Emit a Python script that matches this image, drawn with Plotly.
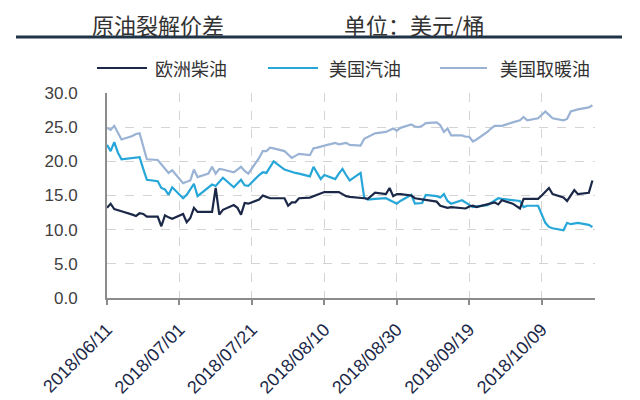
import pandas as pd
import plotly.graph_objects as go

dates = pd.bdate_range("2018-06-11", "2018-10-23")

eu_diesel = [
    13.2, 13.8, 13.0, 12.9, 12.7,
    12.2, 12.0, 12.4, 12.3, 11.9,
    11.9, 10.5, 12.1, 11.8, 11.6,
    12.3, 11.1, 11.7, 13.2, 12.6,
    12.6, 12.6, 16.1, 12.2, 12.9,
    13.6, 13.2, 12.2, 13.9, 13.8,
    14.4, 15.0, 14.8, 14.6, 14.6,
    14.6, 13.5, 14.0, 14.0, 14.6,
    14.7, 14.9, 15.1, 15.3, 15.5,
    15.5, 15.5, 15.2, 14.9, 14.8,
    14.7, 14.6, 14.5, 14.9, 15.4,
    15.2, 16.1, 14.9, 15.2, 15.2,
    15.0, 14.6, 14.5, 14.4, 14.3,
    14.1, 13.5, 13.3, 13.2, 13.3,
    13.1, 13.1, 13.4, 13.5, 13.3,
    13.7, 13.9, 14.0, 13.7, 14.3,
    13.8, 13.5, 13.1, 14.5, 14.5,
    14.5, 15.0, 15.6, 16.1, 15.2,
    14.7, 14.2, 15.0, 15.8, 15.2,
    15.4, 17.2,
]

us_gasoline = [
    22.4, 21.5, 22.8, 21.3, 20.3,
    20.5, 20.6, 20.6, 18.9, 17.3,
    17.1, 16.1, 15.9, 15.1, 16.2,
    14.6, 15.1, 15.9, 16.7, 14.9,
    16.2, 16.6, 16.4, 17.0, 17.6,
    16.2, 16.8, 17.3, 16.5, 16.4,
    18.0, 18.4, 18.3, 19.2, 20.0,
    18.8, 18.6, 18.5, 18.3, 18.2,
    17.8, 19.2, 18.3, 17.4, 18.0,
    17.4, 18.2, 18.9, 18.0, 17.2,
    18.3, 14.7, 14.4, 14.5, 14.5,
    14.6, 14.3, 14.1, 13.8, 14.2,
    15.1, 13.8, 13.8, 13.9, 15.1,
    14.9, 14.7, 15.2, 14.2, 13.8,
    14.3, 14.0, 13.6, 13.3, 13.4,
    13.6, 13.9, 14.3, 14.6, 14.5,
    14.3, 14.3, 14.2, 13.3, 13.5,
    13.5, 12.2, 11.0, 10.4, 10.2,
    9.9, 11.0, 10.8, 10.9, 11.0,
    10.7, 10.4,
]

us_heating = [
    24.9, 24.6, 25.2, 24.2, 23.2,
    23.7, 24.0, 24.1, 22.2, 20.3,
    20.2, 19.6, 19.0, 18.3, 18.7,
    16.8, 17.0, 17.2, 18.8, 17.7,
    18.2, 19.2, 18.2, 18.9, 18.8,
    18.4, 18.8, 19.2, 18.6, 18.2,
    20.5, 21.5, 21.5, 22.0, 21.9,
    21.5, 21.0, 20.5, 20.8, 21.1,
    20.9, 21.9, 22.0, 22.1, 22.3,
    22.7, 22.5, 22.6, 22.7, 22.4,
    22.3, 23.3, 23.6, 23.9, 24.1,
    24.3, 24.5, 24.8, 24.5, 24.9,
    25.4, 25.1, 25.0, 25.2, 25.6,
    25.7, 25.3, 24.3, 24.8, 23.8,
    23.8, 23.6, 23.6, 22.9, 23.2,
    24.3, 24.8, 25.2, 25.2, 25.2,
    25.7, 25.9, 26.0, 26.5, 26.0,
    26.3, 26.8, 27.3, 26.8, 26.3,
    26.0, 26.2, 27.3, 27.5, 27.6,
    27.9, 28.2,
]

series_names = ["欧洲柴油", "美国汽油", "美国取暖油"]
series_colors = ["#1B2848", "#27A6D8", "#9AB3D5"]
title_left = "原油裂解价差"
title_right = "单位：美元/桶"

# layout geometry (pixels)
L, R, T, B = 107, 45, 93, 102
W, H = 640, 400
PW, PH = W - L - R, H - T - B

def px(x):
    return (x - L) / PW

def py(y):
    return (H - B - y) / PH

CJK = "Noto Sans CJK SC"

fig = go.Figure()
for name, vals, col in zip(series_names[::-1],
                           [us_heating, us_gasoline, eu_diesel],
                           series_colors[::-1]):
    fig.add_trace(go.Scatter(x=dates, y=vals, name=name, mode="lines",
                             line=dict(color=col, width=2.2), showlegend=False))

annotations = []
shapes = []
# header
annotations.append(dict(text=title_left, x=px(90), y=py(24), xref="paper", yref="paper",
                        xanchor="left", yanchor="middle", showarrow=False,
                        font=dict(family=CJK, size=22, color="#333333")))
annotations.append(dict(text=title_right, x=px(342), y=py(24), xref="paper", yref="paper",
                        xanchor="left", yanchor="middle", showarrow=False,
                        font=dict(family=CJK, size=22, color="#333333")))
shapes.append(dict(type="line", xref="paper", yref="paper", x0=px(16), x1=px(622),
                   y0=py(37), y1=py(37), line=dict(color="#1F3347", width=3)))
# manual legend
leg_pos = [(97, 147, 153), (268, 318, 327), (440, 487, 498)]
for (s0, s1, tx), name, col in zip(leg_pos, series_names, series_colors):
    shapes.append(dict(type="line", xref="paper", yref="paper", x0=px(s0), x1=px(s1),
                       y0=py(68), y1=py(68), line=dict(color=col, width=2.2)))
    annotations.append(dict(text=name, x=px(tx), y=py(68), xref="paper", yref="paper",
                            xanchor="left", yanchor="middle", showarrow=False,
                            font=dict(family=CJK, size=18, color="#333333")))

fig.update_layout(
    width=W, height=H,
    margin=dict(l=L, r=R, t=T, b=B, pad=0, autoexpand=False),
    paper_bgcolor="white", plot_bgcolor="white",
    annotations=annotations, shapes=shapes,
    showlegend=False,
)
fig.update_xaxes(
    type="date", automargin=False,
    range=["2018-06-11", "2018-10-23 17:00"],
    tick0="2018-06-11", dtick=20 * 86400000,
    tickformat="%Y/%m/%d", tickangle=-45,
    tickfont=dict(family="Arial, Liberation Sans", size=18, color="#1B2848"),
    ticklabelstandoff=7,
    showgrid=True, gridcolor="#D4D4D4", griddash="dash", gridwidth=1,
    showline=True, linecolor="#8C8C8C", linewidth=2,
    ticks="outside", ticklen=5, tickcolor="#8C8C8C", tickwidth=2,
    zeroline=False,
)
fig.update_yaxes(
    automargin=False,
    range=[0, 30], dtick=5, tickformat=".1f",
    tickfont=dict(family="Arial, Liberation Sans", size=17, color="#404040"),
    showgrid=True, gridcolor="#D4D4D4", griddash="dash", gridwidth=1,
    showline=True, linecolor="#8C8C8C", linewidth=2,
    ticks="", ticklabelstandoff=24,
    zeroline=False,
)

fig.write_html("out.html")
